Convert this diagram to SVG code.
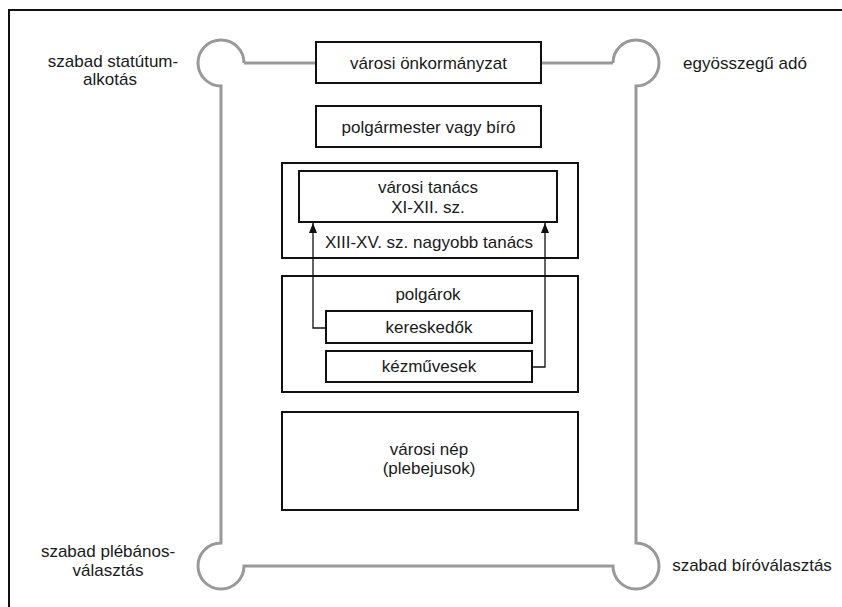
<svg xmlns="http://www.w3.org/2000/svg" width="842" height="607" viewBox="0 0 842 607">
<style>
.t{font-family:"Liberation Sans",Arial,sans-serif;font-size:17px;fill:#1a1a1a;text-anchor:middle}
.b{fill:#fff;stroke:#111;stroke-width:2}
.g{fill:none;stroke:#999;stroke-width:3}
.c{fill:none;stroke:#111;stroke-width:1.3}
</style>
<defs>
<marker id="ah" markerWidth="10" markerHeight="8" refX="10" refY="4" orient="auto" markerUnits="userSpaceOnUse" viewBox="0 0 10 8">
<path d="M0,0 L10,4 L0,8 Z" fill="#111"/>
</marker>
</defs>
<rect width="842" height="607" fill="#fff"/>
<path d="M9,607 V10 H842" fill="none" stroke="#111" stroke-width="2"/>
<g id="scroll">
<path class="g" d="M244,63 A23,23 0 1 0 221,86 V543 A23,23 0 1 0 244,566 H613 A23,23 0 1 0 636,543 V86 A23,23 0 1 0 613,63"/>
<path class="g" d="M244,63 H316 M541,63 H613"/>
</g>
<g id="corner-labels">
<text class="t" x="113" y="67">szabad statútum-</text>
<text class="t" x="110" y="85">alkotás</text>
<text class="t" x="745" y="69">egyösszegű adó</text>
<text class="t" x="108" y="557">szabad plébános-</text>
<text class="t" x="108" y="576">választás</text>
<text class="t" x="752" y="571">szabad bíróválasztás</text>
</g>
<g id="onkormanyzat">
<rect class="b" x="316" y="42" width="225" height="41"/>
<text class="t" x="428.5" y="69">városi önkormányzat</text>
</g>
<g id="polgarmester">
<rect class="b" x="316" y="106" width="225" height="41"/>
<text class="t" x="428.5" y="133">polgármester vagy bíró</text>
</g>
<g id="nagyobb-tanacs">
<rect class="b" x="282" y="163" width="296" height="95"/>
<text class="t" x="429" y="248">XIII-XV. sz. nagyobb tanács</text>
</g>
<g id="varosi-tanacs">
<rect class="b" x="299" y="171" width="258" height="51"/>
<text class="t" x="428" y="193">városi tanács</text>
<text class="t" x="428" y="213">XI-XII. sz.</text>
</g>
<g id="polgarok">
<rect class="b" x="282" y="276" width="296" height="116"/>
<text class="t" x="428" y="300">polgárok</text>
</g>
<g id="kereskedok">
<rect class="b" x="326" y="311" width="206" height="32"/>
<text class="t" x="429" y="333">kereskedők</text>
</g>
<g id="kezmuvesek">
<rect class="b" x="326" y="351" width="206" height="31"/>
<text class="t" x="429" y="372">kézművesek</text>
</g>
<g id="varosi-nep">
<rect class="b" x="282" y="412" width="296" height="98"/>
<text class="t" x="429" y="455">városi nép</text>
<text class="t" x="429" y="474">(plebejusok)</text>
</g>
<g id="connectors">
<path class="c" d="M326,328 H313 V223" marker-end="url(#ah)"/>
<path class="c" d="M532,367 H545 V223" marker-end="url(#ah)"/>
</g>
</svg>
